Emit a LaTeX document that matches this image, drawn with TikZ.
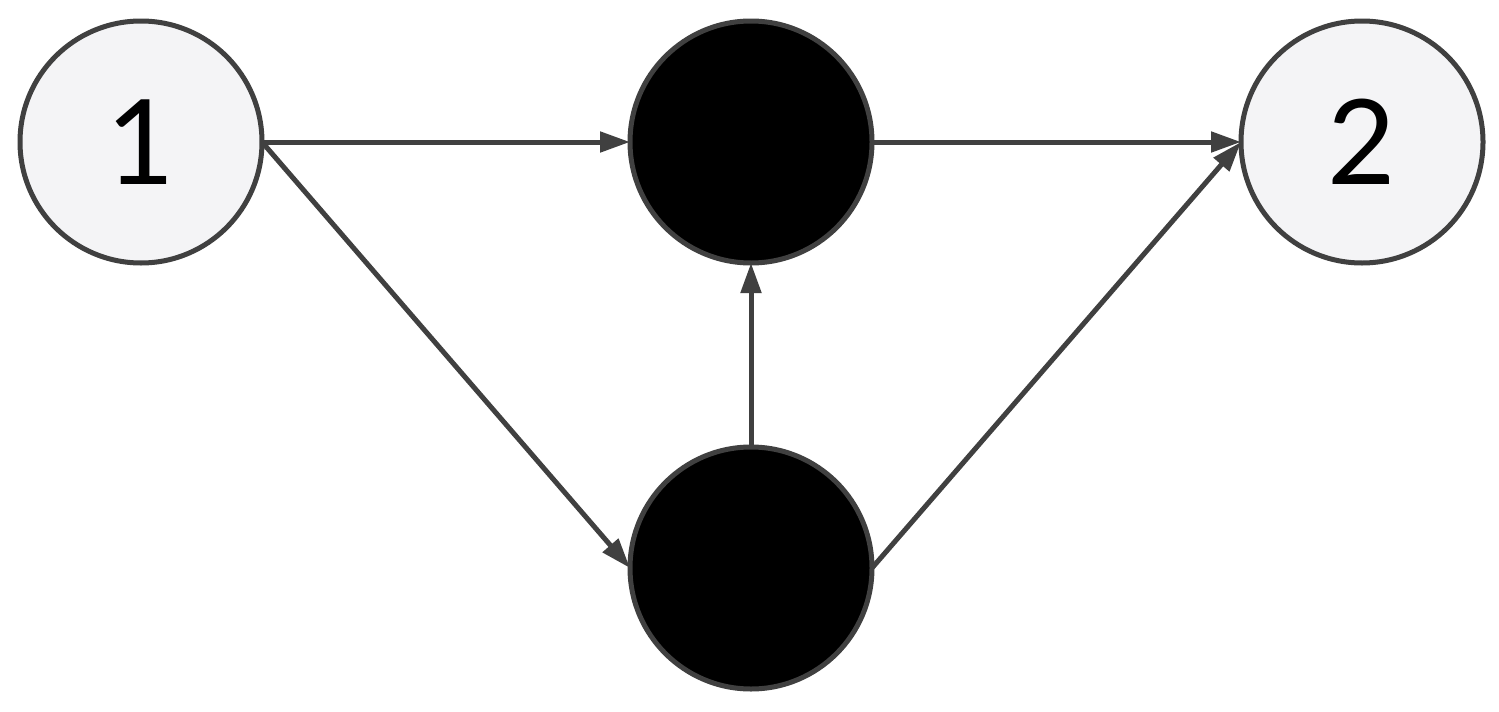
\documentclass[tikz,border=0pt]{standalone}
\usepackage{fontspec}
\setmainfont{Lato}
\usetikzlibrary{arrows.meta}
\definecolor{edgegray}{HTML}{404040}
\definecolor{lightfill}{HTML}{F4F4F6}
\tikzset{
  basenode/.style={circle, draw=edgegray, line width=5pt, minimum size=242pt, inner sep=0pt, outer sep=0pt},
  whitenode/.style={basenode, fill=lightfill, font=\fontsize{118}{118}\selectfont},
  blacknode/.style={basenode, fill=black},
  conn/.style={draw=edgegray, line width=5pt, -{Triangle[length=30pt, width=20pt]}}
}
\begin{document}
\begin{tikzpicture}[x=1pt, y=-1pt]
\useasboundingbox (0,0) rectangle (1499,712);
\fill[white] (0,0) rectangle (1499,712);
\node[whitenode] (n1) at (141,142) {1};
\node[whitenode] (n2) at (1362,142) {2};
\node[blacknode] (top) at (751,142) {};
\node[blacknode] (bot) at (751,568) {};
\draw[conn] (n1.east) -- (top.west);
\draw[conn] (top.east) -- (n2.west);
\draw[conn] (n1.east) -- (bot.west);
\draw[conn] (bot.east) -- (n2.west);
\draw[conn] (bot.north) -- (top.south);
\end{tikzpicture}
\end{document}
